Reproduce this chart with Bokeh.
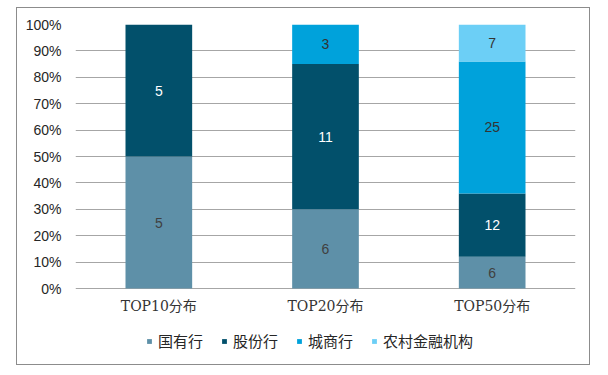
from bokeh.plotting import figure
from bokeh.models import (FactorRange, Range1d, FixedTicker, NumeralTickFormatter,
                          Legend, LegendItem, ColumnDataSource)
from bokeh.core.properties import value
from bokeh.embed import file_html
from bokeh.resources import INLINE

categories = ["TOP10分布", "TOP20分布", "TOP50分布"]
series_names = ["国有行", "股份行", "城商行", "农村金融机构"]
guoyou = [5, 6, 6]
gufen = [5, 11, 12]
chengshang = [0, 3, 25]
nongcun = [0, 0, 7]
y_ticks = [0, 0.1, 0.2, 0.3, 0.4, 0.5, 0.6, 0.7, 0.8, 0.9, 1.0]

colors = ["#5E90A8", "#02506B", "#00A2DB", "#6CCFF6"]
label_colors = ["#404040", "#FFFFFF", "#333333", "#333333"]

series = [guoyou, gufen, chengshang, nongcun]
totals = [sum(s[i] for s in series) for i in range(len(categories))]
keys = ["s0", "s1", "s2", "s3"]
data = {"cat": categories}
for k, s in zip(keys, series):
    data[k] = [v / t for v, t in zip(s, totals)]
src = ColumnDataSource(data)

# frame: 264px for 0..1, extended 78px below 0 to hold category labels and legend
p = figure(x_range=FactorRange(*categories, range_padding=0),
           y_range=Range1d(-78 / 264, 1),
           width=574, height=358,
           output_backend="svg", toolbar_location=None,
           x_axis_location=None,
           min_border_left=58, min_border_right=16,
           min_border_top=16, min_border_bottom=0)
p.styles = {"border": "1px solid #8C8C8C", "margin-left": "16px", "margin-top": "7px"}
p.outline_line_color = None
p.background_fill_color = "white"

renderers = p.vbar_stack(keys, x="cat", width=0.4, source=src,
                         color=colors, line_color=None)

# segment labels
lx, ly, lt, lc = [], [], [], []
for i, cat in enumerate(categories):
    base = 0.0
    for j, s in enumerate(series):
        frac = s[i] / totals[i]
        if s[i] > 0:
            lx.append(cat)
            ly.append(base + frac / 2)
            lt.append(str(s[i]))
            lc.append(label_colors[j])
        base += frac
lsrc = ColumnDataSource(dict(x=lx, y=ly, t=lt, c=lc))
p.text(x="x", y="y", text="t", source=lsrc, text_color="c",
       text_align="center", text_baseline="middle",
       text_font=value("Liberation Sans"), text_font_size="14px")

# category labels under the zero line
p.text(x=categories, y=[0] * len(categories), text=categories, y_offset=17,
       text_align="center", text_baseline="middle", text_color="#333333",
       text_font=value("'DejaVu Serif', 'Noto Sans CJK SC'"), text_font_size="14px")

# y axis
p.yaxis.ticker = FixedTicker(ticks=y_ticks)
p.yaxis.formatter = NumeralTickFormatter(format="0%")
p.yaxis.axis_line_color = None
p.yaxis.major_tick_line_color = None
p.yaxis.minor_tick_line_color = None
p.yaxis.major_label_standoff = 8
p.yaxis.major_label_text_font = "Liberation Sans"
p.yaxis.major_label_text_font_size = "14px"
p.yaxis.major_label_text_color = "#262626"

p.xgrid.grid_line_color = None
p.ygrid.ticker = FixedTicker(ticks=y_ticks)
p.ygrid.grid_line_color = "#A6A6A6"
p.ygrid.grid_line_width = 1

legend = Legend(items=[LegendItem(label=n, renderers=[r]) for n, r in zip(series_names, renderers)],
                orientation="horizontal", location=(71, 15),
                glyph_width=6, glyph_height=6, label_standoff=6, spacing=18,
                padding=0, margin=0, border_line_color=None, background_fill_alpha=0,
                label_text_font="Noto Sans CJK SC", label_text_font_size="15px",
                label_text_color="#262626", label_height=16)
p.add_layout(legend, "center")

open("out.html", "w").write(file_html(p, INLINE))
